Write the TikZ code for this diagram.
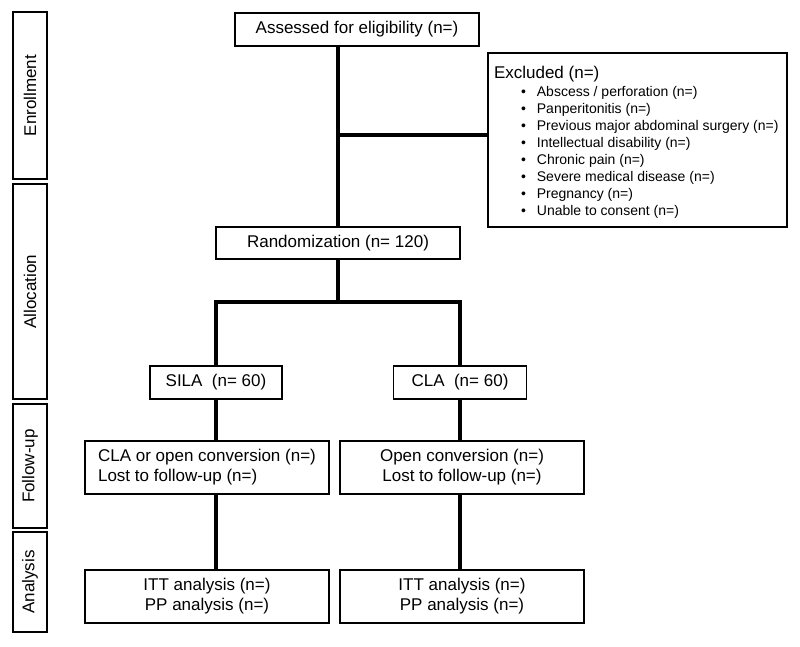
\documentclass[tikz,border=0pt]{standalone}
\usepackage{fontspec}
\setmainfont{Liberation Sans}
\begin{document}
\begin{tikzpicture}[x=1pt,y=-1pt,
  every node/.style={font=\fontsize{17}{20}\selectfont, inner sep=0pt, outer sep=0pt},
  box/.style={draw, line width=1.6pt, rectangle},
  phase/.style={draw, line width=1.6pt, rectangle, minimum width=34pt},
  conn/.style={line width=3.2pt}]
\useasboundingbox (0,0) rectangle (800,646);
% phase labels
\node[phase, minimum height=167pt] (ph1) at (30,95.5) {\rotatebox{90}{Enrollment}};
\node[phase, minimum height=215pt] (ph2) at (30,291.5) {\rotatebox{90}{Allocation}};
\node[phase, minimum height=124pt] (ph3) at (30,466) {\rotatebox{90}{Follow-up}};
\node[phase, minimum height=100pt] (ph4) at (30,582) {\rotatebox{90}{Analysis}};
% main boxes
\node[box, minimum width=244pt, minimum height=33pt] (assess) at (357,29.5) {Assessed for eligibility (n=)};
\node[box, minimum width=299pt, minimum height=174pt] (excl) at (637.5,140) {};
\node[anchor=west] (exclhead) at (494,74) {Excluded (n=)};
\node[anchor=north west] (excllist) at (521,84.5) {\fontsize{14}{17}\selectfont
  \begin{tabular}{@{}l@{\hspace{11pt}}l@{}}
  \textbullet & Abscess / perforation (n=)\\
  \textbullet & Panperitonitis (n=)\\
  \textbullet & Previous major abdominal surgery (n=)\\
  \textbullet & Intellectual disability (n=)\\
  \textbullet & Chronic pain (n=)\\
  \textbullet & Severe medical disease (n=)\\
  \textbullet & Pregnancy (n=)\\
  \textbullet & Unable to consent (n=)
  \end{tabular}};
\node[box, minimum width=244pt, minimum height=32pt] (rand) at (338,243) {Randomization (n= 120)};
\node[box, minimum width=132pt, minimum height=33pt] (sila) at (216,382.5) {SILA\ \ (n= 60)};
\node[box, minimum width=133pt, minimum height=33pt] (cla) at (460,382.5) {CLA\ \ (n= 60)};
\node[box, minimum width=244pt, minimum height=53pt, align=left] (fu1) at (207,467.5) {CLA or open conversion (n=)\\Lost to follow-up (n=)};
\node[box, minimum width=244pt, minimum height=53pt, align=center] (fu2) at (462,467.5) {Open conversion (n=)\\Lost to follow-up (n=)};
\node[box, minimum width=244pt, minimum height=53pt, align=center] (an1) at (207,596.5) {ITT analysis (n=)\\PP analysis (n=)};
\node[box, minimum width=244pt, minimum height=53pt, align=center] (an2) at (462,596.5) {ITT analysis (n=)\\PP analysis (n=)};
% connectors
\coordinate (exj) at (338,135);
\coordinate (split) at (338,302);
\draw[conn] (assess.south -| rand.north) -- (rand.north);
\draw[conn] (exj) -- (excl.west |- exj);
\draw[conn] (rand.south) -- (split);
\draw[conn] (sila.north) -- (sila.north |- split) -- (cla.north |- split) -- (cla.north);
\draw[conn] (sila.south) -- (sila.south |- fu1.north);
\draw[conn] (cla.south) -- (cla.south |- fu2.north);
\draw[conn] (fu1.south -| sila.south) -- (an1.north -| sila.south);
\draw[conn] (fu2.south -| cla.south) -- (an2.north -| cla.south);
\end{tikzpicture}
\end{document}
